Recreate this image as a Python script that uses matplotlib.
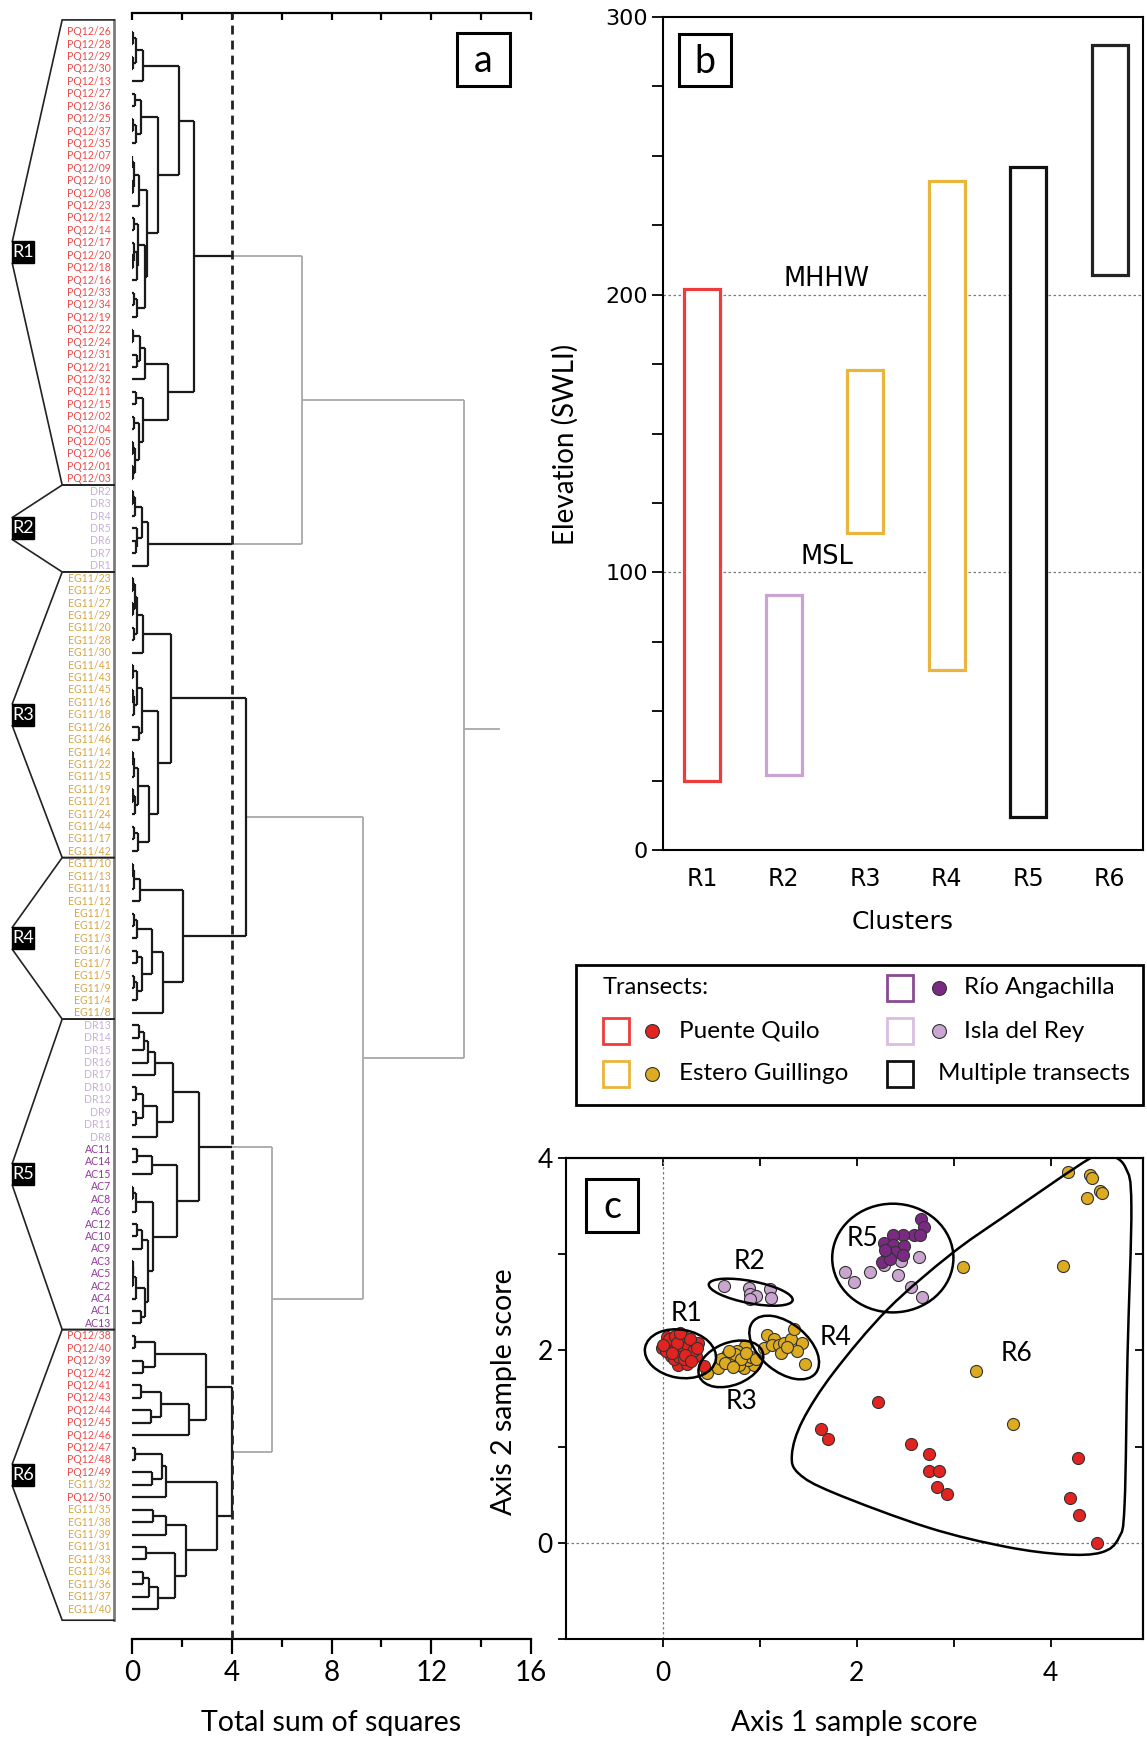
import numpy as np
import matplotlib
matplotlib.use('Agg')
import matplotlib.pyplot as plt
from matplotlib.patches import Rectangle, Ellipse, PathPatch
from matplotlib.path import Path
from matplotlib.lines import Line2D

plt.rcParams['font.family'] = ['Lato', 'DejaVu Sans']

# ------------------------------------------------------------------ data
def N(h, a, b):
    return (h, a, b)

def P(n):
    return "PQ12/" + n

def E(n):
    return "EG11/" + n

# Panel a: dendrogram merge heights (total sum of squares)
R1_tree = N(2.48,
    N(1.89,
      N(0.45, N(0.16, N(0.05, P("26"), P("28")), N(0.06, P("29"), P("30"))), P("13")),
      N(1.03,
        N(0.35, N(0.12, P("27"), P("36")), N(0.15, N(0.05, P("25"), P("37")), P("35"))),
        N(0.60,
          N(0.30, N(0.09, N(0.02, P("07"), P("09")), N(0.05, P("10"), P("08"))), P("23")),
          N(0.52, N(0.25, N(0.10, P("12"), P("14")),
                          N(0.20, N(0.08, P("17"), N(0.04, P("20"), P("18"))), P("16"))),
                  N(0.20, N(0.10, P("33"), P("34")), P("19")))))),
    N(1.45,
      N(0.52, N(0.33, N(0.05, P("22"), P("24")), N(0.20, P("31"), P("21"))), P("32")),
      N(0.45, N(0.15, P("11"), P("15")),
              N(0.30, N(0.10, P("02"), P("04")),
                      N(0.12, N(0.05, P("05"), P("06")), N(0.06, P("01"), P("03")))))))

R2_tree = N(0.65,
    N(0.42, N(0.12, N(0.05, "DR2", "DR3"), "DR4"), N(0.22, "DR5", N(0.15, "DR6", "DR7"))),
    "DR1")

R3_tree = N(1.55,
    N(0.45, N(0.20, N(0.12, N(0.04, E("23"), E("25")), N(0.05, E("27"), E("29"))),
                    N(0.10, E("20"), E("28"))), E("30")),
    N(1.05,
      N(0.40, N(0.20, N(0.05, E("41"), E("43")), N(0.10, N(0.04, E("45"), E("16")), E("18"))),
              N(0.30, E("26"), E("46"))),
      N(0.69, N(0.25, N(0.10, N(0.04, E("14"), E("22")), E("15")),
                      N(0.12, N(0.05, E("19"), E("21")), E("24"))),
              N(0.25, N(0.10, E("44"), E("17")), E("42")))))

R4_tree = N(2.03,
    N(0.32, N(0.10, N(0.04, E("10"), E("13")), E("11")), E("12")),
    N(1.25, N(0.79, N(0.21, N(0.08, E("1"), E("2")), E("3")),
                    N(0.39, N(0.20, E("6"), E("7")), N(0.22, N(0.08, E("5"), E("9")), E("4")))),
            E("8")))

R5_tree = N(2.70,
    N(1.63,
      N(0.92, N(0.65, N(0.48, N(0.29, "DR13", "DR14"), "DR15"), "DR16"), "DR17"),
      N(0.99, N(0.45, N(0.16, "DR10", "DR12"), N(0.16, "DR9", "DR11")), "DR8")),
    N(1.81,
      N(0.79, N(0.21, "AC11", "AC14"), "AC15"),
      N(0.85, N(0.16, N(0.05, "AC7", "AC8"), "AC6"),
              N(0.65, N(0.39, N(0.19, "AC12", "AC10"), "AC9"),
                      N(0.52, N(0.16, N(0.05, N(0.03, "AC3", "AC5"), "AC2"), "AC4"),
                              N(0.35, "AC1", "AC13"))))))

R6_tree = N(3.99,
    N(2.96,
      N(0.92, N(0.12, P("38"), P("40")), N(0.43, P("39"), P("42"))),
      N(2.29, N(1.15, N(0.35, P("41"), P("43")), N(0.75, P("44"), P("45"))), P("46"))),
    N(3.42,
      N(1.36, N(1.19, N(0.12, P("47"), P("48")), N(0.79, P("49"), E("32"))), P("50")),
      N(2.16, N(1.35, N(0.85, E("35"), E("38")), E("39")),
              N(1.72, N(0.56, E("31"), E("33")),
                      N(1.05, N(0.69, N(0.43, E("34"), E("36")), E("37")), E("40"))))))

R34_tree = N(4.59, R3_tree, R4_tree)
top_tree = N(13.3, N(6.83, R1_tree, R2_tree), N(9.28, R34_tree, N(5.60, R5_tree, R6_tree)))
root_stub = 14.7
cut_level = 4.0
cluster_trees = [R1_tree, R2_tree, R3_tree, R4_tree, R5_tree, R6_tree]
cluster_names = ["R1", "R2", "R3", "R4", "R5", "R6"]

# Panel b: elevation ranges (SWLI)
elev_low = [25, 27, 114, 65, 12, 207]
elev_high = [202, 92, 173, 241, 246, 290]
ref_levels = [100, 200]
ref_names = ["MSL", "MHHW"]

# Panel c: sample scores
R1_pq_x = [-0.01, 0.04, 0.10, 0.17, 0.22, 0.30, 0.36, 0.10, 0.17, 0.24, 0.08, 0.20, 0.28,
           0.34, 0.15, 0.25, 0.42, 0.04, 0.13, 0.18, 0.26, 0.06, 0.12, 0.21, 0.03, 0.31,
           0.11, 0.17, 0.22, 0.00, 0.28, 0.14, 0.35, 0.09, 0.23, 0.29, 0.18]
R1_pq_y = [2.02, 2.14, 2.10, 2.13, 2.10, 2.07, 2.08, 2.03, 2.02, 2.00, 1.94, 1.97, 1.94,
           1.94, 1.85, 1.86, 1.84, 2.06, 1.99, 2.06, 2.05, 2.12, 2.15, 2.15, 1.99, 1.99,
           1.91, 1.93, 1.91, 2.06, 2.12, 2.08, 2.02, 1.97, 1.95, 1.89, 2.18]
R2_dr_x = [0.63, 0.89, 0.90, 0.96, 0.90, 1.10, 1.11]
R2_dr_y = [2.67, 2.65, 2.59, 2.57, 2.53, 2.64, 2.54]
R3_eg_x = [0.45, 0.57, 0.66, 0.71, 0.77, 0.80, 0.85, 0.82, 0.84, 0.94, 0.76, 0.70, 0.88,
           0.60, 0.78, 0.74, 0.91, 0.64, 0.80, 0.86, 0.72, 0.96, 0.68]
R3_eg_y = [1.77, 1.82, 1.95, 1.88, 1.93, 1.98, 2.05, 1.88, 1.82, 1.85, 1.99, 1.94, 1.90,
           1.91, 1.85, 1.96, 1.93, 1.87, 1.91, 1.97, 1.83, 1.91, 1.99]
R4_eg_x = [1.07, 1.15, 1.04, 1.12, 1.20, 1.25, 1.32, 1.35, 1.43, 1.22, 1.38, 1.46, 1.28]
R4_eg_y = [2.16, 2.12, 2.02, 2.06, 2.06, 2.08, 2.12, 2.22, 2.08, 1.97, 1.99, 1.86, 2.04]
R5_dr_x = [1.88, 1.97, 2.13, 2.28, 2.45, 2.64, 2.42, 2.56, 2.67, 2.33]
R5_dr_y = [2.82, 2.71, 2.82, 2.89, 2.93, 2.97, 2.78, 2.66, 2.56, 3.00]
R5_ac_x = [2.66, 2.69, 2.59, 2.65, 2.48, 2.37, 2.28, 2.37, 2.49, 2.39, 2.48, 2.31, 2.26, 2.34, 2.29]
R5_ac_y = [3.37, 3.28, 3.20, 3.20, 3.20, 3.20, 3.12, 3.10, 3.09, 3.02, 2.99, 2.98, 2.92, 2.95, 3.04]
R6_pq_x = [2.22, 1.63, 1.70, 2.56, 2.74, 2.74, 2.85, 2.83, 2.93, 4.28, 4.20, 4.29, 4.48]
R6_pq_y = [1.46, 1.18, 1.08, 1.03, 0.92, 0.75, 0.75, 0.58, 0.51, 0.88, 0.47, 0.29, 0.00]
R6_eg_x = [4.18, 4.40, 4.42, 4.37, 4.51, 4.53, 4.13, 3.09, 3.23, 3.61]
R6_eg_y = [3.85, 3.82, 3.79, 3.58, 3.66, 3.64, 2.88, 2.87, 1.79, 1.23]

# ------------------------------------------------------------------ styles
W, H = 1147, 1739
fig = plt.figure(figsize=(W / 100, H / 100), dpi=100)

C_PQ_TXT = '#ee4b4b'
C_EG_TXT = '#d6a644'
C_DR_TXT = '#c9b0d8'
C_AC_TXT = '#8f3a98'
C_RED = '#e3231f'
C_GOLD = '#dcab1f'
C_DPUR = '#7a2a82'
C_LPUR = '#c9a5cf'
C_GRAY = '#a8a8a8'
C_BLACK = '#1a1a1a'


def fx(px):
    return px / W


def fy(py):
    return 1 - py / H


def fig_letter_box(x0, y0, x1, y1, letter):
    fig.add_artist(Rectangle((fx(x0), fy(y1)), fx(x1 - x0), (y1 - y0) / H,
                             transform=fig.transFigure, fill=False, ec='black', lw=2.2))
    fig.text(fx((x0 + x1) / 2), fy((y0 + y1) / 2 + 2), letter, ha='center', va='center',
             fontsize=27, family=['Lato', 'DejaVu Sans'])


def label_color(lab):
    if lab.startswith('PQ'):
        return C_PQ_TXT
    if lab.startswith('EG'):
        return C_EG_TXT
    if lab.startswith('AC'):
        return C_AC_TXT
    return C_DR_TXT


# ------------------------------------------------------------------ panel a
ax_top_px, ax_bot_px = 13, 1639
leaf0_px, leaf_step_px = 31.7, 12.42
ax_a = fig.add_axes([fx(132), fy(ax_bot_px), fx(531 - 132), (ax_bot_px - ax_top_px) / H])
ax_a.set_xlim(0, 16)
ax_a.set_ylim((ax_bot_px - leaf0_px) / leaf_step_px, (ax_top_px - leaf0_px) / leaf_step_px)

leaf_order = []
black_roots = [R1_tree, R2_tree, R34_tree, R5_tree, R6_tree]


def layout(node):
    if isinstance(node, str):
        i = len(leaf_order)
        leaf_order.append(node)
        return {'y': float(i), 'h': 0.0, 'node': node, 'kids': []}
    h, a, b = node
    A = layout(a)
    B = layout(b)
    return {'y': (A['y'] + B['y']) / 2, 'h': h, 'node': node, 'kids': [A, B]}


def is_black_root(node):
    return any(node is r for r in black_roots)


def draw(n, black):
    if not n['kids']:
        return
    for k in n['kids']:
        kb = black or is_black_root(k['node'])
        draw(k, kb)
    ys = [k['y'] for k in n['kids']]
    vcol = C_BLACK if black else C_GRAY
    vlw = 1.6 if black else 1.3
    ax_a.plot([n['h'], n['h']], [min(ys), max(ys)], color=vcol, lw=vlw,
              solid_capstyle='butt', zorder=3 if black else 2)
    for k in n['kids']:
        kb = black or is_black_root(k['node'])
        if black:
            ax_a.plot([k['h'], n['h']], [k['y'], k['y']], color=C_BLACK, lw=1.6,
                      solid_capstyle='butt', zorder=3)
        elif kb:
            split = max(k['h'], cut_level)
            ax_a.plot([k['h'], split], [k['y'], k['y']], color=C_BLACK, lw=1.6,
                      solid_capstyle='butt', zorder=3)
            ax_a.plot([split, n['h']], [k['y'], k['y']], color=C_GRAY, lw=1.3,
                      solid_capstyle='butt', zorder=2)
        else:
            ax_a.plot([k['h'], n['h']], [k['y'], k['y']], color=C_GRAY, lw=1.3,
                      solid_capstyle='butt', zorder=2)


root = layout(top_tree)
draw(root, False)
ax_a.plot([root['h'], root_stub], [root['y'], root['y']], color=C_GRAY, lw=1.3)

ax_a.axvline(cut_level, color='#222222', lw=2.0, ls=(0, (3.2, 2.2)), zorder=4)

# leaf labels
x_lab = (111 - 132) / 25
for i, lab in enumerate(leaf_order):
    ax_a.text(x_lab, i, lab, ha='right', va='center', fontsize=7.6,
              color=label_color(lab), clip_on=False)

# cluster brackets
def count_leaves(node):
    if isinstance(node, str):
        return 1
    return count_leaves(node[1]) + count_leaves(node[2])


x_col = (114 - 132) / 25
x_corner = (62 - 132) / 25
x_tip = (12 - 132) / 25
box_w = 22 / 25
box_h = 22 / leaf_step_px
start = 0
bounds = []
for t in cluster_trees:
    n = count_leaves(t)
    bounds.append((start - 0.5, start + n - 0.5))
    start += n
first_top = bounds[0][0] - 0.45
last_bot = bounds[-1][1] + 0.4
bounds[0] = (first_top, bounds[0][1])
bounds[-1] = (bounds[-1][0], last_bot)
ax_a.plot([x_col, x_col], [first_top, last_bot], color='#7a7a7a', lw=2.0, clip_on=False)
for (t, b), name in zip(bounds, cluster_names):
    m = (t + b) / 2
    ax_a.plot([x_col, x_corner, x_tip], [t, t, m - box_h / 2], color='#222222', lw=1.2,
              clip_on=False, solid_joinstyle='miter')
    ax_a.plot([x_tip, x_corner, x_col], [m + box_h / 2, b, b], color='#222222', lw=1.2,
              clip_on=False, solid_joinstyle='miter')
    ax_a.add_patch(Rectangle((x_tip, m - box_h / 2), box_w, box_h, color='black',
                             clip_on=False, zorder=5))
    ax_a.text(x_tip + box_w / 2, m, name, color='white', fontsize=13, ha='center',
              va='center', clip_on=False, zorder=6)

for s in ['left', 'right']:
    ax_a.spines[s].set_visible(False)
ax_a.spines['bottom'].set_linewidth(1.6)
ax_a.spines['top'].set_visible(False)
ax_a.set_yticks([])
ax_a.set_xticks([0, 4, 8, 12, 16])
ax_a.set_xticks([2, 6, 10, 14], minor=True)
ax_a.tick_params(axis='x', which='major', direction='out', length=11, width=1.6,
                 labelsize=20, pad=4)
ax_a.tick_params(axis='x', which='minor', direction='out', length=6, width=1.6)
ax_a.set_xlabel('Total sum of squares', fontsize=20.5)
ax_a.xaxis.set_label_coords(0.5, (ax_bot_px - 1710) / (ax_bot_px - ax_top_px))
sec = ax_a.secondary_xaxis('top')
sec.set_xticks(np.arange(0, 17, 2))
sec.tick_params(direction='in', length=5, width=1.6, labeltop=False)
sec.spines['top'].set_linewidth(1.6)
fig_letter_box(457, 33, 510, 86, 'a')

# ------------------------------------------------------------------ panel b
b_top, b_bot = 17, 850
ax_b = fig.add_axes([fx(663), fy(b_bot), fx(1143 - 663), (b_bot - b_top) / H])
xs = np.arange(1, len(cluster_names) + 1)
bar_cols = ['#ee3b3b', '#c9a3d3', '#e9b53c', '#e9b53c', '#111111', '#222222']
for lev, nm in zip(ref_levels, ref_names):
    ax_b.axhline(lev, color='#7a7a7a', lw=0.9, ls=(0, (2, 2)), zorder=1)
ax_b.bar(xs, np.array(elev_high) - np.array(elev_low), bottom=elev_low, width=0.44,
         facecolor='white', edgecolor=bar_cols, linewidth=2.3, zorder=2)
ax_b.text(2.53, 201, 'MHHW', ha='center', va='bottom', fontsize=18.5,
          family=['DejaVu Sans'], zorder=3)
ax_b.text(2.53, 101, 'MSL', ha='center', va='bottom', fontsize=18.5,
          family=['DejaVu Sans'], zorder=3)
ax_b.set_xlim(0.52, 6.41)
ax_b.set_ylim(0, 300)
ax_b.set_xticks(xs)
ax_b.set_xticklabels(cluster_names, family=['DejaVu Sans'])
ax_b.set_yticks([0, 100, 200, 300])
ax_b.set_yticklabels(['0', '100', '200', '300'], family=['DejaVu Sans'])
ax_b.set_yticks(np.arange(0, 301, 25), minor=True)
ax_b.tick_params(axis='y', which='both', direction='out', length=8, width=1.3,
                 labelsize=16, pad=3)
ax_b.tick_params(axis='x', length=0, labelsize=17, pad=12)
for s in ax_b.spines.values():
    s.set_linewidth(1.5)
ax_b.set_ylabel('Elevation (SWLI)', fontsize=20)
ax_b.yaxis.set_label_coords((579 - 663) / (1143 - 663), (b_bot - 444) / (b_bot - b_top))
ax_b.set_xlabel('Clusters', fontsize=18, family=['DejaVu Sans'])
ax_b.xaxis.set_label_coords(0.5, (b_bot - 910) / (b_bot - b_top))
fig_letter_box(679, 34, 731, 86, 'b')

# ------------------------------------------------------------------ legend
lg_x0, lg_y0, lg_x1, lg_y1 = 576, 965, 1143, 1105
fig.add_artist(Rectangle((fx(lg_x0), fy(lg_y1)), fx(lg_x1 - lg_x0), (lg_y1 - lg_y0) / H,
                         transform=fig.transFigure, fill=False, ec='black', lw=2.0))
row_y = [988, 1031, 1074]
fig.text(fx(603), fy(row_y[0]), 'Transects:', fontsize=17, ha='left', va='center')
legend_items = [
    (603, row_y[1], '#ee3b3b', 652, C_RED, 679, 'Puente Quilo'),
    (603, row_y[2], '#e9b53c', 652, C_GOLD, 679, 'Estero Guillingo'),
    (887, row_y[0], '#8a4a94', 939, C_DPUR, 964, 'Río Angachilla'),
    (887, row_y[1], '#d8bfe0', 939, C_LPUR, 964, 'Isla del Rey'),
    (887, row_y[2], '#111111', None, None, 938, 'Multiple transects'),
]
for sx, sy, scol, dx, dcol, tx, txt in legend_items:
    fig.add_artist(Rectangle((fx(sx), fy(sy + 13)), fx(26), 26 / H, transform=fig.transFigure,
                             fill=False, ec=scol, lw=2.0))
    if dx is not None:
        fig.add_artist(Line2D([fx(dx)], [fy(sy)], marker='o', ms=10, mfc=dcol, mec='#333333',
                              mew=0.8, transform=fig.transFigure))
    fig.text(fx(tx), fy(sy), txt, fontsize=17.5, ha='left', va='center')

# ------------------------------------------------------------------ panel c
c_top, c_bot = 1158, 1639
ax_c = fig.add_axes([fx(566), fy(c_bot), fx(1143 - 566), (c_bot - c_top) / H])
ax_c.set_xlim(-1.0, 4.95)
ax_c.set_ylim(-1.0, 4.0)
ax_c.axvline(0, color='#7a7a7a', lw=0.9, ls=(0, (2, 2)), zorder=1)
ax_c.axhline(0, color='#7a7a7a', lw=0.9, ls=(0, (2, 2)), zorder=1)

sc_kw = dict(s=75, edgecolors='#333333', linewidths=0.8, zorder=4)
ax_c.scatter(R6_pq_x, R6_pq_y, c=C_RED, **sc_kw)
ax_c.scatter(R6_eg_x, R6_eg_y, c=C_GOLD, **sc_kw)
ax_c.scatter(R5_dr_x, R5_dr_y, c=C_LPUR, **sc_kw)
ax_c.scatter(R5_ac_x, R5_ac_y, c=C_DPUR, **sc_kw)
ax_c.scatter(R2_dr_x, R2_dr_y, c=C_LPUR, **sc_kw)
ax_c.scatter(R4_eg_x, R4_eg_y, c=C_GOLD, **sc_kw)
ax_c.scatter(R3_eg_x, R3_eg_y, c=C_GOLD, **sc_kw)
ax_c.scatter(R1_pq_x, R1_pq_y, c=C_RED, **sc_kw)

ell_kw = dict(fill=False, ec='black', lw=1.8, zorder=5)
ax_c.add_patch(Ellipse((0.18, 1.965), 0.74, 0.50, angle=-10, **ell_kw))
ax_c.add_patch(Ellipse((0.905, 2.605), 0.88, 0.23, angle=-11, **ell_kw))
ax_c.add_patch(Ellipse((0.70, 1.86), 0.70, 0.44, angle=22, **ell_kw))
ax_c.add_patch(Ellipse((1.25, 2.03), 0.84, 0.50, angle=-40, **ell_kw))
ax_c.add_patch(Ellipse((2.37, 2.96), 1.25, 1.13, angle=0, **ell_kw))

R6_outline = [(4.41, 4.00), (3.53, 3.40), (2.97, 3.00), (2.32, 2.43), (1.76, 1.77),
              (1.44, 1.27), (1.33, 0.92), (1.40, 0.72), (1.76, 0.52), (2.73, 0.16),
              (3.53, -0.04), (4.13, -0.12), (4.52, -0.10), (4.70, 0.05), (4.76, 0.40),
              (4.79, 1.93), (4.83, 3.50), (4.77, 3.90), (4.60, 4.03)]
pts = np.array(R6_outline)
npt = len(pts)
verts = [pts[0]]
codes = [Path.MOVETO]
for i in range(npt):
    p0, p1, p2, p3 = pts[i - 1], pts[i], pts[(i + 1) % npt], pts[(i + 2) % npt]
    verts += [p1 + (p2 - p0) / 6, p2 - (p3 - p1) / 6, p2]
    codes += [Path.CURVE4] * 3
ax_c.add_patch(PathPatch(Path(verts, codes), fill=False, ec='black', lw=1.8, zorder=5))

c_labels = [("R1", 0.24, 2.38), ("R2", 0.89, 2.92), ("R3", 0.81, 1.47),
            ("R4", 1.78, 2.13), ("R5", 2.06, 3.16), ("R6", 3.65, 1.97)]
for nm, x, y in c_labels:
    ax_c.text(x, y, nm, fontsize=19, ha='center', va='center', zorder=6)

ax_c.set_xticks([0, 2, 4])
ax_c.set_xticks([1, 3], minor=True)
ax_c.set_yticks([0, 2, 4])
ax_c.set_yticks([-1, 1, 3], minor=True)
ax_c.tick_params(which='both', direction='out', length=6, width=1.3, labelsize=19)
ax_c.tick_params(axis='x', pad=10)
secx = ax_c.secondary_xaxis('top')
secx.set_xticks([0, 1, 2, 3, 4])
secx.tick_params(direction='in', length=6, width=1.3, labeltop=False)
secy = ax_c.secondary_yaxis('right')
secy.set_yticks([1, 2, 3])
secy.tick_params(direction='in', length=6, width=1.3, labelright=False)
for s in list(ax_c.spines.values()) + [secx.spines['top'], secy.spines['right']]:
    s.set_linewidth(1.5)
ax_c.set_xlabel('Axis 1 sample score', fontsize=20.5)
ax_c.xaxis.set_label_coords(0.5, (c_bot - 1710) / (c_bot - c_top))
ax_c.set_ylabel('Axis 2 sample score', fontsize=20.5)
ax_c.yaxis.set_label_coords((517 - 566) / (1143 - 566), (c_bot - 1392) / (c_bot - c_top))
fig_letter_box(586, 1179, 638, 1232, 'c')

fig.savefig('out.png', dpi=100)
